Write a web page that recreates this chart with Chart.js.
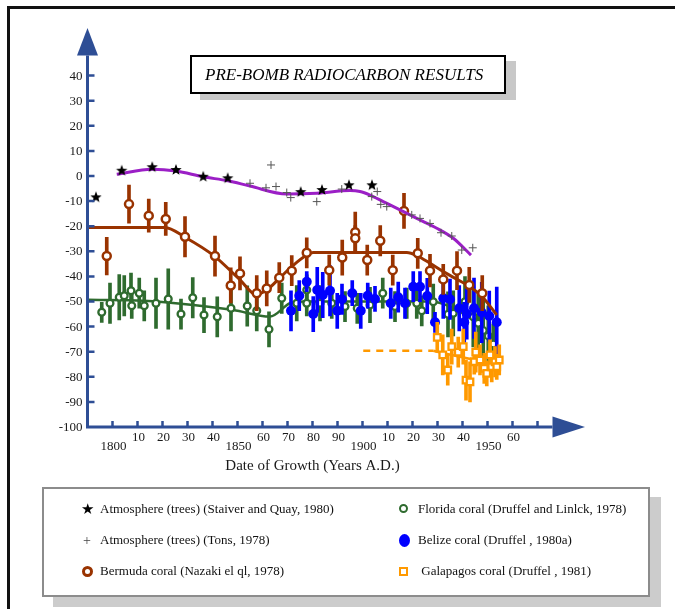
<!DOCTYPE html>
<html>
<head>
<meta charset="utf-8">
<script src="https://cdn.jsdelivr.net/npm/chart.js@4/dist/chart.umd.min.js"></script>
<style>
  html, body { margin: 0; padding: 0; background: #fff; }
  #page { position: relative; width: 675px; height: 609px; overflow: hidden; background: #fff; font-family: "Liberation Serif", "Times New Roman", serif; }
  #frame { position: absolute; left: 7px; top: 6px; width: 700px; height: 700px; border-top: 3px solid #111; border-left: 3px solid #111; }
  #chart { position: absolute; left: 0; top: 0; }
  #title { position: absolute; left: 190px; top: 55px; height: 35px; border: 2px solid #000; background: #fff;
           box-shadow: 10px 6px 0 #c8c8c8; font-style: italic; font-size: 17px; line-height: 36px; padding-left: 13px;
           box-sizing: content-box; width: 299px; white-space: nowrap; }
  #legend { position: absolute; left: 42px; top: 487px; width: 604px; height: 106px; border: 2px solid #8c8c8c; background: #fff;
            box-shadow: 11px 10px 0 #cccccc; }
  .item { position: absolute; font-size: 13px; color: #111; white-space: nowrap; height: 16px; line-height: 16px; }
  .mk { position: absolute; }
</style>
</head>
<body>
<div id="page">
  <div id="frame"></div>
  <canvas id="chart" width="675" height="609"></canvas>
  <div id="title">PRE-BOMB RADIOCARBON RESULTS</div>
  <div id="legend"></div>
</div>
<script>
// ---- Δ14C measurements (per mil) by year of growth ----
const stuiverYears = [1793.4, 1803.7, 1815.9, 1825.4, 1836.3, 1846.1, 1875.3, 1883.8, 1894.6, 1903.8];
const stuiverD14C  = [-8.5, 2.1, 3.5, 2.4, -0.3, -0.9, -6.4, -5.6, -3.7, -3.7];

const tansYears = [1855, 1861.4, 1863.4, 1865.4, 1869.7, 1871.3, 1881.7, 1891.7, 1903.7, 1905.9, 1907.3, 1909.7,
                   1919.7, 1923, 1927, 1931.4, 1935.7, 1939.7, 1944.1];
const tansD14C  = [-2.9, -4.7, 4.4, -4.2, -6.6, -8.6, -10.2, -5.2, -8.2, -6.2, -11.3, -12.2,
                   -15.5, -16.9, -18.9, -22.6, -23.9, -29.5, -28.6];

const bermudaYears = [1797.7, 1806.6, 1814.5, 1821.3, 1829, 1841, 1847.3, 1851, 1857.7, 1861.7, 1866.7, 1871.7, 1877.7,
                      1886.7, 1891.9, 1897.1, 1897.1, 1901.9, 1907.1, 1912.1, 1916.6, 1922.1, 1927, 1932.3, 1937.8, 1942.7, 1947.9];
const bermudaD14C  = [-31.9, -11.2, -15.8, -17.1, -24.2, -31.9, -43.6, -38.8, -46.7, -44.8, -40.5, -37.7, -30.6,
                      -37.5, -32.5, -22.4, -24.8, -33.5, -25.8, -37.5, -13.9, -30.8, -37.7, -41.2, -37.7, -43.4, -46.7];
const bermudaErr   = [7.5, 7.6, 6.6, 6.6, 8, 8, 7, 6.6, 7, 7, 6, 6, 6,
                      6, 7, 8, 5, 6, 6, 6, 7, 6, 6.5, 6, 7.6, 7, 7];

const floridaYears = [1795.7, 1799, 1802.7, 1804.7, 1807.4, 1807.7, 1810.7, 1812.7, 1817.4, 1822.3, 1827.4, 1832.1, 1836.6,
                      1841.9, 1847.4, 1853.9, 1857.7, 1862.6, 1867.7, 1873.7, 1877.7, 1877.7, 1883, 1887.7, 1893, 1897.9,
                      1903, 1908.1, 1913, 1917.7, 1921.7, 1923.7, 1928.3, 1934.2, 1936.3, 1941, 1944.3, 1946.3, 1948.3,
                      1950.3, 1952.3];
const floridaD14C  = [-54.3, -50.7, -48.3, -47.7, -45.7, -51.7, -46.7, -51.7, -50.7, -49, -55, -48.5, -55.4,
                      -56.1, -52.7, -51.8, -53.7, -61.1, -48.7, -50.7, -45.4, -50.7, -50.7, -50.7, -52, -52.7,
                      -51.4, -46.7, -52, -50.7, -50.7, -53.7, -50.1, -55.1, -54.7, -50.1, -56.1, -58.7, -61.6,
                      -63.7, -66.9];
const floridaErr   = [4, 8, 9, 8, 7, 5, 6, 6, 10, 12, 6, 8, 7,
                      8, 9, 8, 8, 7, 6, 7, 6, 5, 7, 6, 6, 6,
                      7, 6, 6, 6, 6, 6, 7, 9, 9, 10, 12, 12, 12,
                      12, 8];

const belizeYears = [1871.4, 1874.7, 1877.7, 1880.3, 1881.9, 1884.1, 1887, 1889.9, 1891.8, 1895.9, 1899.3, 1902.1,
                     1905, 1911.3, 1914.3, 1917, 1920.3, 1923, 1925.9, 1929, 1932.3, 1935, 1938.7, 1940.7, 1941.7,
                     1944.6, 1947.7, 1950.7, 1953.7];
const belizeD14C  = [-53.7, -47.7, -42.1, -55, -45.4, -47.4, -45.7, -53.7, -49.1, -46.7, -53.7, -47.7,
                     -49, -50.7, -48.3, -50.7, -44.1, -44.1, -47.8, -58.3, -48.7, -49.1, -52.7, -58.3, -55,
                     -52.7, -54.4, -55.8, -58.3];
const belizeErr   = [8, 6, 4, 7, 9, 9, 10, 7, 6, 5, 7, 5,
                     5, 6, 6, 6, 6, 6, 7, 4, 8, 8, 9, 8, 10,
                     12, 12, 10, 14];

const galapagosYears = [1929.9, 1932.1, 1934.1, 1935.7, 1938.3, 1940.3, 1941.4, 1943, 1945.3, 1944.7, 1947, 1948.7,
                        1949.7, 1951, 1951.7, 1953, 1954.7, 1953.7];
const galapagosD14C  = [-64.3, -71.3, -77.3, -68, -70.2, -68, -81.3, -82, -70.2, -74, -73.3, -76.6,
                        -78.6, -71.3, -76, -74, -73.3, -76];
const galapagosErr   = [6, 8, 6, 7, 6, 7, 8, 8, 8, 5, 6, 6,
                        5, 6, 6, 6, 6, 5];

// ---- fitted trend curves ----
const stuiverCurveYears = [1801.7, 1815.7, 1825.4, 1836.2, 1846.1, 1855, 1869.7, 1881.7, 1895, 1899, 1903, 1908.3,
                           1915, 1921.7, 1929.7, 1936.3, 1943.4];
const stuiverCurveD14C  = [0.7, 2.7, 2.0, -0.3, -1.9, -4.0, -7.2, -6.9, -5.8, -6.2, -7.6, -10.2,
                           -13.5, -16.9, -20.8, -24.8, -31.5];

const bermudaCurveYears = [1790, 1821, 1829, 1841, 1851, 1857.4, 1861.7, 1866.7, 1871.7, 1877.7, 1880.3, 1917.7,
                           1922.1, 1927, 1932.3, 1937.8, 1943, 1947.9, 1953.7];
const bermudaCurveD14C  = [-20.5, -20.5, -24.4, -32.1, -41.4, -47.2, -45.4, -40.8, -36.1, -31.5, -30.5, -30.5,
                           -31.9, -34.8, -38.1, -41.2, -44.1, -48.1, -55.4];

const floridaCurveYears = [1790, 1812.3, 1832.3, 1848.3, 1863, 1871, 1876.3, 1927, 1935, 1945.7, 1951];
const floridaCurveD14C  = [-49.3, -49.7, -51.4, -53.4, -56, -50.7, -50, -50, -52, -58.7, -64.7];

const galapagosCurveYears = [1900.3, 1928.3, 1932, 1946];
const galapagosCurveD14C  = [-69.6, -69.6, -70.5, -73.5];

// ---- axis ticks ----
const yTickValues = [-100, -90, -80, -70, -60, -50, -40, -30, -20, -10, 0, 10, 20, 30, 40];
const xTickValues = [1800, 1810, 1820, 1830, 1840, 1850, 1860, 1870, 1880, 1890, 1900, 1910, 1920, 1930, 1940, 1950, 1960, 1970];
const xTickLabels = ['1800', '10', '20', '30', '40', '1850', '60', '70', '80', '90', '1900', '10', '20', '30', '40', '1950', '60', ''];

const xTitle = 'Date of Growth (Years A.D.)';

// ---- colours ----
const AXIS = '#2e4e95';
const BROWN = '#993300';
const GREEN = '#2f6b2f';
const BLUE = '#0000ff';
const ORANGE = '#ff9900';
const PURPLE = '#9b1fc6';

const points = (xs, ys) => xs.map((x, i) => ({ x, y: ys[i] }));
const ranges = (xs, ys, es) => xs.map((x, i) => ({ x, y: [ys[i] - es[i], ys[i] + es[i]] }));

// filled five-pointed star marker
function starImage(r) {
  const c = document.createElement('canvas');
  const s = Math.ceil(2 * r + 2);
  c.width = s; c.height = s;
  const g = c.getContext('2d');
  g.fillStyle = '#000';
  g.beginPath();
  for (let k = 0; k < 10; k++) {
    const rad = k % 2 === 0 ? r : r * 0.42;
    const a = -Math.PI / 2 + k * Math.PI / 5;
    const px = s / 2 + rad * Math.cos(a), py = s / 2 + rad * Math.sin(a);
    k === 0 ? g.moveTo(px, py) : g.lineTo(px, py);
  }
  g.closePath();
  g.fill();
  return c;
}

const errBars = (xs, ys, es, color, order) => ({
  type: 'bar', data: ranges(xs, ys, es), backgroundColor: color, borderWidth: 0,
  barThickness: 3, grouped: false, order
});
const curve = (xs, ys, color, width, order, extra) => Object.assign({
  type: 'line', data: points(xs, ys), borderColor: color, borderWidth: width, pointRadius: 0,
  fill: false, cubicInterpolationMode: 'monotone', order
}, extra || {});

const axesPlugin = {
  id: 'axesArrows',
  afterDraw(chart) {
    const { ctx, scales: { x, y } } = chart;
    const x0 = x.getPixelForValue(1790);
    const y0 = y.getPixelForValue(-100);
    ctx.save();
    ctx.strokeStyle = AXIS;
    ctx.fillStyle = AXIS;
    ctx.lineWidth = 3;
    ctx.lineCap = 'butt';
    // axis lines
    const yTop = y.getPixelForValue(48);
    const xEnd = x.getPixelForValue(1976);
    ctx.beginPath();
    ctx.moveTo(x0, y0 + 1.5); ctx.lineTo(x0, yTop);
    ctx.moveTo(x0 - 1.5, y0); ctx.lineTo(xEnd, y0);
    ctx.stroke();
    // arrow heads
    const yTip = y.getPixelForValue(59);
    ctx.beginPath();
    ctx.moveTo(x0, yTip); ctx.lineTo(x0 + 10.5, yTop); ctx.lineTo(x0 - 10.5, yTop); ctx.closePath();
    ctx.fill();
    const xTip = x.getPixelForValue(1989);
    ctx.beginPath();
    ctx.moveTo(xTip, y0); ctx.lineTo(xEnd, y0 - 10.5); ctx.lineTo(xEnd, y0 + 10.5); ctx.closePath();
    ctx.fill();
    // tick marks
    ctx.lineWidth = 2.5;
    ctx.beginPath();
    yTickValues.forEach(v => {
      if (v === -100) return;
      const py = y.getPixelForValue(v);
      ctx.moveTo(x0, py); ctx.lineTo(x0 + 7, py);
    });
    xTickValues.forEach(v => {
      const px = x.getPixelForValue(v);
      ctx.moveTo(px, y0); ctx.lineTo(px, y0 - 6);
    });
    ctx.stroke();
    // tick labels
    ctx.fillStyle = '#1a1a1a';
    ctx.font = '13px "Liberation Serif", serif';
    ctx.textAlign = 'right';
    ctx.textBaseline = 'middle';
    yTickValues.forEach(v => ctx.fillText(String(v), x0 - 5, y.getPixelForValue(v) + 0.5));
    ctx.textAlign = 'center';
    xTickValues.forEach((v, i) => {
      const lab = xTickLabels[i];
      if (!lab) return;
      const low = lab.length === 4;
      ctx.fillText(lab, x.getPixelForValue(v) + 1, y0 + (low ? 20 : 11));
    });
    ctx.font = '15px "Liberation Serif", serif';
    ctx.fillText(xTitle, x.getPixelForValue(1880), y0 + 39);
    ctx.restore();
  }
};

new Chart(document.getElementById('chart'), {
  type: 'scatter',
  data: {
    datasets: [
      curve(floridaCurveYears, floridaCurveD14C, GREEN, 2.5, 30),
      errBars(floridaYears, floridaD14C, floridaErr, GREEN, 29),
      { type: 'scatter', label: 'Florida coral', data: points(floridaYears, floridaD14C), pointStyle: 'circle',
        pointRadius: 3.4, borderWidth: 2.3, borderColor: GREEN, backgroundColor: '#fff', order: 28 },
      errBars(belizeYears, belizeD14C, belizeErr, BLUE, 27),
      { type: 'scatter', label: 'Belize coral', data: points(belizeYears, belizeD14C), pointStyle: 'circle',
        pointRadius: 5, borderWidth: 0, backgroundColor: BLUE, order: 26 },
      errBars(galapagosYears, galapagosD14C, galapagosErr, ORANGE, 25),
      curve(galapagosCurveYears, galapagosCurveD14C, ORANGE, 2.5, 24, {
        cubicInterpolationMode: 'default', tension: 0,
        segment: { borderDash: c => c.p0DataIndex === 0 ? [7, 6] : undefined }
      }),
      { type: 'scatter', label: 'Galapagos coral', data: points(galapagosYears, galapagosD14C), pointStyle: 'rect',
        pointRadius: 4.6, borderWidth: 2.3, borderColor: ORANGE, backgroundColor: '#fff', order: 23 },
      curve(bermudaCurveYears, bermudaCurveD14C, BROWN, 3, 22),
      errBars(bermudaYears, bermudaD14C, bermudaErr, BROWN, 21),
      { type: 'scatter', label: 'Bermuda coral', data: points(bermudaYears, bermudaD14C), pointStyle: 'circle',
        pointRadius: 4, borderWidth: 2.5, borderColor: BROWN, backgroundColor: '#fff', order: 20 },
      curve(stuiverCurveYears, stuiverCurveD14C, PURPLE, 3, 19),
      { type: 'scatter', label: 'Atmosphere (Tans)', data: points(tansYears, tansD14C), pointStyle: 'cross',
        pointRadius: 4, borderWidth: 1, borderColor: '#555', order: 18 },
      { type: 'scatter', label: 'Atmosphere (Stuiver)', data: points(stuiverYears, stuiverD14C), pointStyle: starImage(6),
        pointRadius: 6, order: 17 }
    ]
  },
  options: {
    responsive: false,
    animation: false,
    devicePixelRatio: 1,
    layout: { padding: { left: 87.5, right: 90, top: 25.4, bottom: 182 } },
    scales: {
      x: { type: 'linear', min: 1790, max: 1989, display: false, offset: false },
      y: { type: 'linear', min: -100, max: 60, display: false }
    },
    plugins: { legend: { display: false }, tooltip: { enabled: false } }
  },
  plugins: [axesPlugin]
});

// ---- legend ----
const legendItems = [
  { col: 0, row: 0, text: 'Atmosphere (trees) (Staiver and Quay, 1980)', mk: '<span style="font:15px \'DejaVu Sans\';color:#000;line-height:16px">★</span>', mx: -6, my: -9 },
  { col: 0, row: 1, text: 'Atmosphere (trees) (Tons, 1978)', mk: '<span style="font:14px \'Liberation Serif\';color:#444;line-height:16px">+</span>', mx: -4, my: -9 },
  { col: 0, row: 2, text: 'Bermuda coral (Nazaki el ql, 1978)', mk: '<span style="display:block;width:5px;height:5px;border:3px solid ' + BROWN + ';border-radius:50%"></span>', mx: -5.5, my: -5.5 },
  { col: 1, row: 0, text: 'Florida coral (Druffel and Linlck, 1978)', mk: '<span style="display:block;width:5px;height:5px;border:2.5px solid ' + GREEN + ';border-radius:50%"></span>', mx: -5, my: -5 },
  { col: 1, row: 1, text: 'Belize coral (Druffel , 1980a)', mk: '<span style="display:block;width:11px;height:13px;background:' + BLUE + ';border-radius:50%"></span>', mx: -5.5, my: -6.5 },
  { col: 1, row: 2, text: '\u00a0Galapagos coral (Druffel , 1981)', mk: '<span style="display:block;width:5px;height:5px;border:2.5px solid ' + ORANGE + ';background:#fff"></span>', mx: -5, my: -4 }
];
const legendEl = document.getElementById('legend');
const colMark = [43, 360], colText = [56, 374], rowY = [20, 51, 82];
legendItems.forEach(it => {
  const m = document.createElement('div');
  m.className = 'mk';
  m.style.left = (colMark[it.col] + it.mx) + 'px';
  m.style.top = (rowY[it.row] + it.my) + 'px';
  m.innerHTML = it.mk;
  legendEl.appendChild(m);
  const t = document.createElement('div');
  t.className = 'item';
  t.style.left = colText[it.col] + 'px';
  t.style.top = (rowY[it.row] - 8) + 'px';
  t.textContent = it.text;
  legendEl.appendChild(t);
});
</script>
</body>
</html>
